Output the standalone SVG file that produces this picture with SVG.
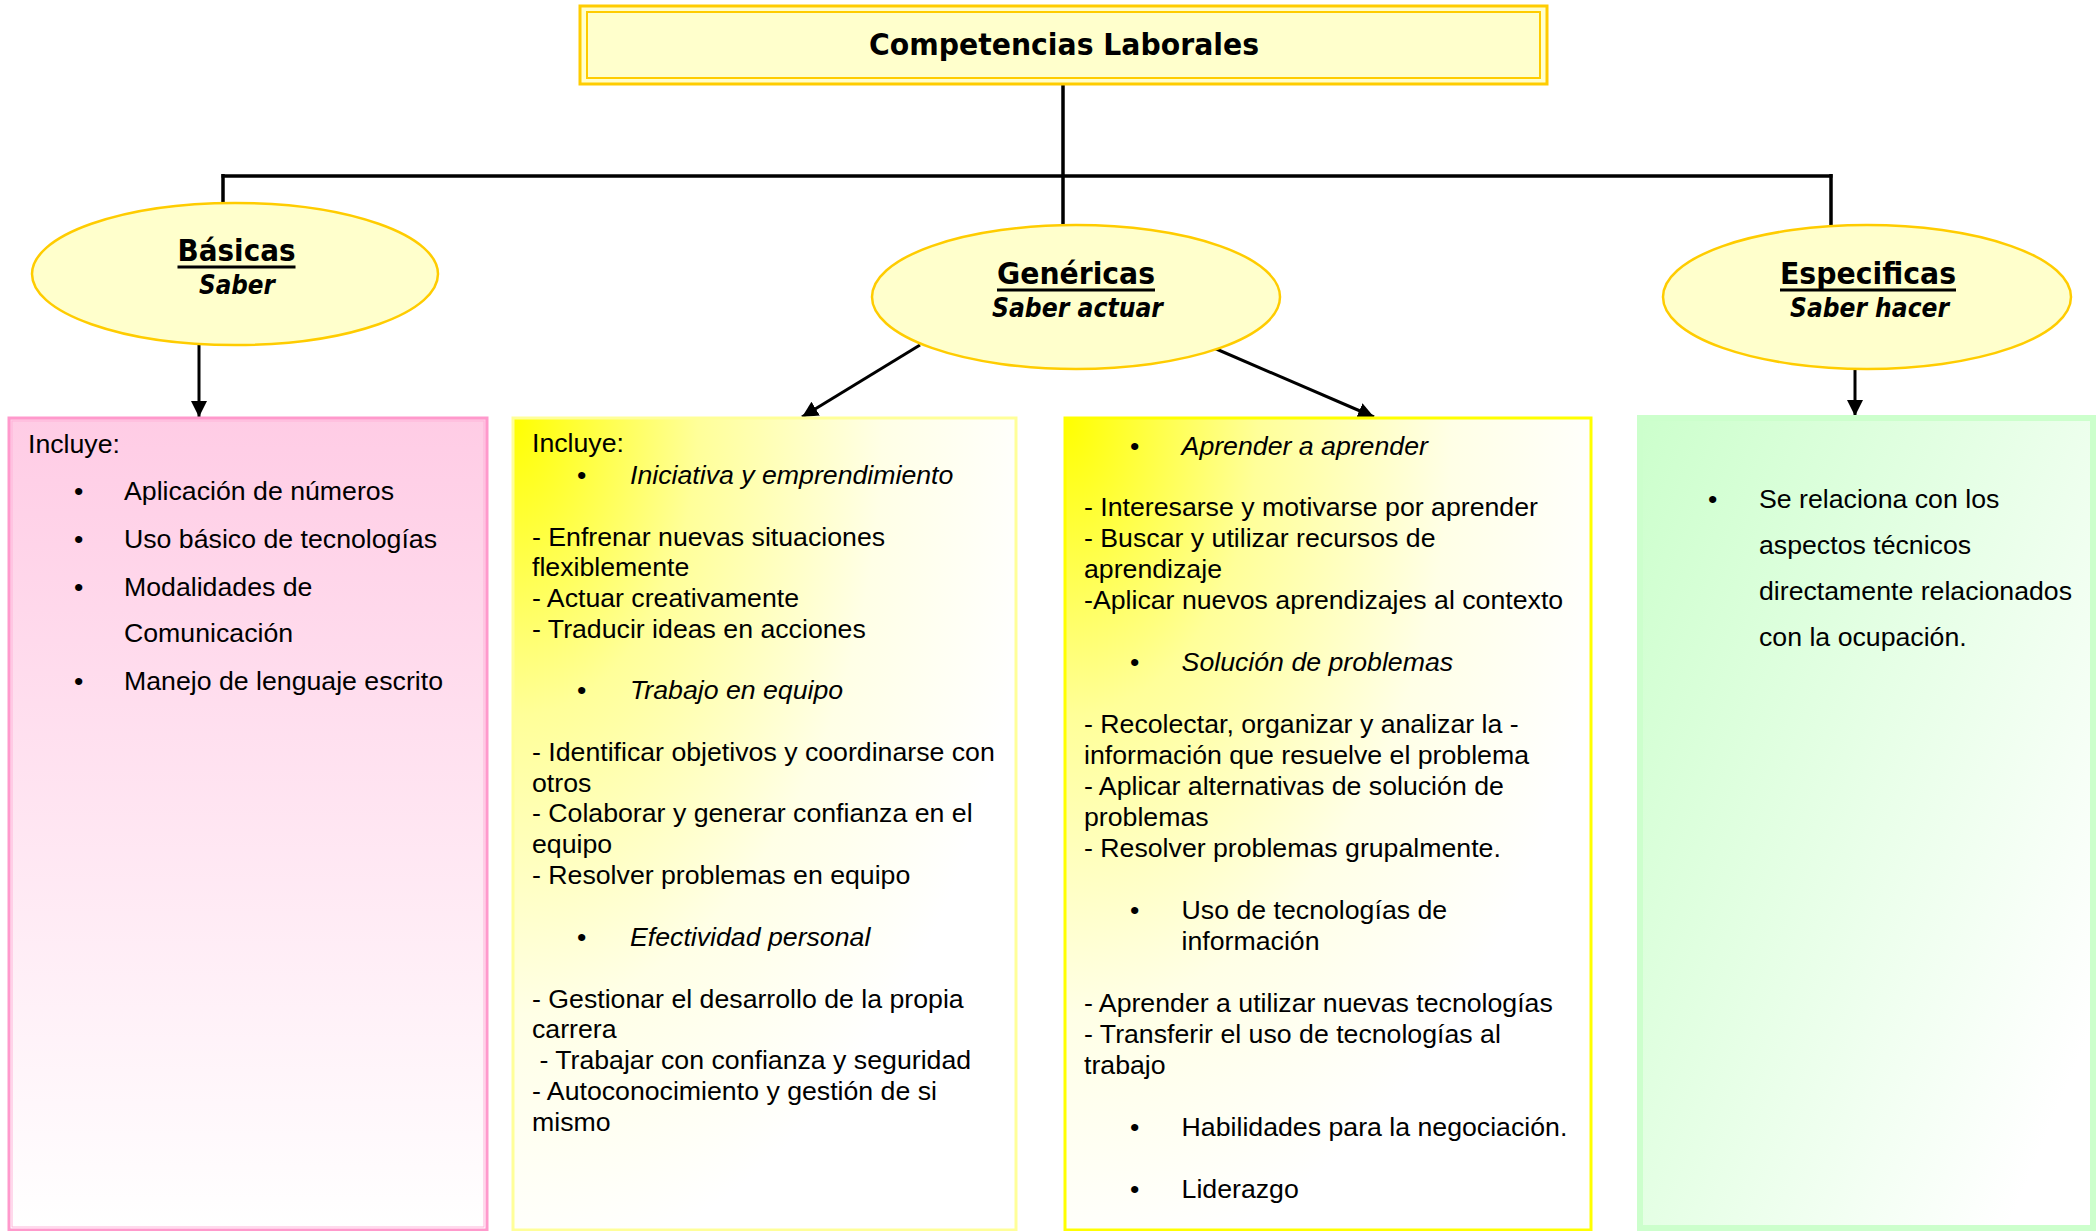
<svg xmlns="http://www.w3.org/2000/svg" width="2096" height="1231" viewBox="0 0 2096 1231">
<style>
.t{font-family:"Liberation Sans",Arial,sans-serif;font-size:26.7px;fill:#000}
.it{font-style:italic}
.hd{font-family:"DejaVu Sans",Verdana,sans-serif;font-weight:bold;fill:#000;text-anchor:middle}
.ell{fill:#FFFFCC;stroke:#FFCC00;stroke-width:2.5}
.con{stroke:#000;stroke-width:3.5;fill:none}
.arr{stroke:#000;stroke-width:3;fill:none;marker-end:url(#ah)}
.ul{stroke:#000;stroke-width:3}
</style>
<defs>
<marker id="ah" markerUnits="userSpaceOnUse" markerWidth="20" markerHeight="20" refX="16" refY="8" orient="auto">
<path d="M0,0 L16,8 L0,16 Z" fill="#000"/>
</marker>
<linearGradient id="gPink" x1="0" y1="0" x2="0" y2="1">
<stop offset="0" stop-color="#FFCCE5"/>
<stop offset="1" stop-color="#FFFFFF"/>
</linearGradient>
<radialGradient id="gYel" cx="0" cy="0" r="1.05" fx="0" fy="0">
<stop offset="0" stop-color="#FFFF00"/>
<stop offset="0.35" stop-color="#FFFF99"/>
<stop offset="0.7" stop-color="#FFFFE6"/>
<stop offset="1" stop-color="#FFFFFF"/>
</radialGradient>
<linearGradient id="gGreen" x1="0" y1="0" x2="1" y2="0.75">
<stop offset="0" stop-color="#CCFFCC"/>
<stop offset="1" stop-color="#FFFFFF"/>
</linearGradient>
</defs>

<g id="connectors">
<line class="con" x1="1063" y1="84" x2="1063" y2="226"/>
<line class="con" x1="221.5" y1="176" x2="1832.5" y2="176"/>
<line class="con" x1="223" y1="174" x2="223" y2="203"/>
<line class="con" x1="1831" y1="174" x2="1831" y2="226"/>
<line class="arr" x1="199" y1="345" x2="199" y2="417"/>
<line class="arr" x1="920" y1="345" x2="802" y2="417"/>
<line class="arr" x1="1207" y1="345" x2="1374" y2="417"/>
<line class="arr" x1="1855" y1="369" x2="1855" y2="416"/>
</g>

<g id="title">
<rect x="580" y="6" width="967" height="78" fill="#FFFFCC" stroke="#FFCC00" stroke-width="3"/>
<rect x="587" y="12" width="953" height="66" fill="none" stroke="#FFCC00" stroke-width="2"/>
<text class="hd" x="1064" y="55" font-size="31" textLength="390" lengthAdjust="spacingAndGlyphs">Competencias Laborales</text>
</g>

<g id="basicas">
<ellipse class="ell" cx="235" cy="274" rx="203" ry="71"/>
<text class="hd" x="236.5" y="261" font-size="30" textLength="118" lengthAdjust="spacingAndGlyphs">Básicas</text>
<line class="ul" x1="177.5" y1="267" x2="295.5" y2="267"/>
<text class="hd" x="237" y="294" font-size="27" font-style="italic" textLength="76" lengthAdjust="spacingAndGlyphs">Saber</text>
</g>

<g id="genericas">
<ellipse class="ell" cx="1076" cy="297" rx="204" ry="72"/>
<text class="hd" x="1076" y="284" font-size="30" textLength="158" lengthAdjust="spacingAndGlyphs">Genéricas</text>
<line class="ul" x1="997" y1="290" x2="1155" y2="290"/>
<text class="hd" x="1077.5" y="317" font-size="27" font-style="italic" textLength="171" lengthAdjust="spacingAndGlyphs">Saber actuar</text>
</g>

<g id="especificas">
<ellipse class="ell" cx="1867" cy="297" rx="204" ry="72"/>
<text class="hd" x="1868" y="284" font-size="30" textLength="176" lengthAdjust="spacingAndGlyphs">Especificas</text>
<line class="ul" x1="1780" y1="290" x2="1956" y2="290"/>
<text class="hd" x="1869.5" y="317" font-size="27" font-style="italic" textLength="159" lengthAdjust="spacingAndGlyphs">Saber hacer</text>
</g>

<g id="box-basicas">
<rect x="9" y="418" width="478" height="812" fill="url(#gPink)" stroke="#FF99CC" stroke-width="3"/>
<rect x="12" y="421" width="472" height="806" fill="none" stroke="#FFB3D9" stroke-width="1"/>
<text class="t" x="28" y="453">Incluye:</text>
<text class="t" x="74" y="500">•</text><text class="t" x="124" y="500">Aplicación de números</text>
<text class="t" x="74" y="548">•</text><text class="t" x="124" y="548">Uso básico de tecnologías</text>
<text class="t" x="74" y="596">•</text><text class="t" x="124" y="596">Modalidades de</text>
<text class="t" x="124" y="642">Comunicación</text>
<text class="t" x="74" y="690">•</text><text class="t" x="124" y="690">Manejo de lenguaje escrito</text>
</g>

<g id="box-genericas-1">
<rect x="513" y="418" width="503" height="812" fill="url(#gYel)" stroke="#FFFF99" stroke-width="3"/>
<text class="t" x="532" y="452" font-size="24">Incluye:</text>
<text class="t" x="577" y="484">•</text><text class="t it" x="630" y="484">Iniciativa y emprendimiento</text>
<text class="t" x="532" y="545.5">- Enfrenar nuevas situaciones</text>
<text class="t" x="532" y="576.3">flexiblemente</text>
<text class="t" x="532" y="607">- Actuar creativamente</text>
<text class="t" x="532" y="637.8">- Traducir ideas en acciones</text>
<text class="t" x="577" y="699.3">•</text><text class="t it" x="630" y="699.3">Trabajo en equipo</text>
<text class="t" x="532" y="760.8">- Identificar objetivos y coordinarse con</text>
<text class="t" x="532" y="791.5">otros</text>
<text class="t" x="532" y="822.3">- Colaborar y generar confianza en el</text>
<text class="t" x="532" y="853">equipo</text>
<text class="t" x="532" y="883.8">- Resolver problemas en equipo</text>
<text class="t" x="577" y="946">•</text><text class="t it" x="630" y="946">Efectividad personal</text>
<text class="t" x="532" y="1007.5">- Gestionar el desarrollo de la propia</text>
<text class="t" x="532" y="1038.3">carrera</text>
<text class="t" x="539.4" y="1069">- Trabajar con confianza y seguridad</text>
<text class="t" x="532" y="1099.8">- Autoconocimiento y gestión de si</text>
<text class="t" x="532" y="1130.6">mismo</text>
</g>

<g id="box-genericas-2">
<rect x="1065" y="418" width="526" height="812" fill="url(#gYel)" stroke="#FFFF00" stroke-width="3"/>
<text class="t" x="1130" y="454.5">•</text><text class="t it" x="1181.6" y="454.5">Aprender a aprender</text>
<text class="t" x="1084" y="516.4">- Interesarse y motivarse por aprender</text>
<text class="t" x="1084" y="547.4">- Buscar y utilizar recursos de</text>
<text class="t" x="1084" y="578.4">aprendizaje</text>
<text class="t" x="1084" y="609.3">-Aplicar nuevos aprendizajes al contexto</text>
<text class="t" x="1130" y="671.3">•</text><text class="t it" x="1181.6" y="671.3">Solución de problemas</text>
<text class="t" x="1084" y="733.2">- Recolectar, organizar y analizar la -</text>
<text class="t" x="1084" y="764.2">información que resuelve el problema</text>
<text class="t" x="1084" y="795.1">- Aplicar alternativas de solución de</text>
<text class="t" x="1084" y="826.1">problemas</text>
<text class="t" x="1084" y="857.1">- Resolver problemas grupalmente.</text>
<text class="t" x="1130" y="919">•</text><text class="t" x="1181.6" y="919">Uso de tecnologías de</text>
<text class="t" x="1181.6" y="950">información</text>
<text class="t" x="1084" y="1011.9">- Aprender a utilizar nuevas tecnologías</text>
<text class="t" x="1084" y="1042.9">- Transferir el uso de tecnologías al</text>
<text class="t" x="1084" y="1073.9">trabajo</text>
<text class="t" x="1130" y="1135.8">•</text><text class="t" x="1181.6" y="1135.8">Habilidades para la negociación.</text>
<text class="t" x="1130" y="1197.7">•</text><text class="t" x="1181.6" y="1197.7">Liderazgo</text>
</g>

<g id="box-especificas">
<rect x="1640" y="418" width="453" height="810" fill="url(#gGreen)" stroke="#CCFFCC" stroke-width="6"/>
<text class="t" x="1708" y="508">•</text><text class="t" x="1759" y="508">Se relaciona con los</text>
<text class="t" x="1759" y="554">aspectos técnicos</text>
<text class="t" x="1759" y="600">directamente relacionados</text>
<text class="t" x="1759" y="646">con la ocupación.</text>
</g>
</svg>
